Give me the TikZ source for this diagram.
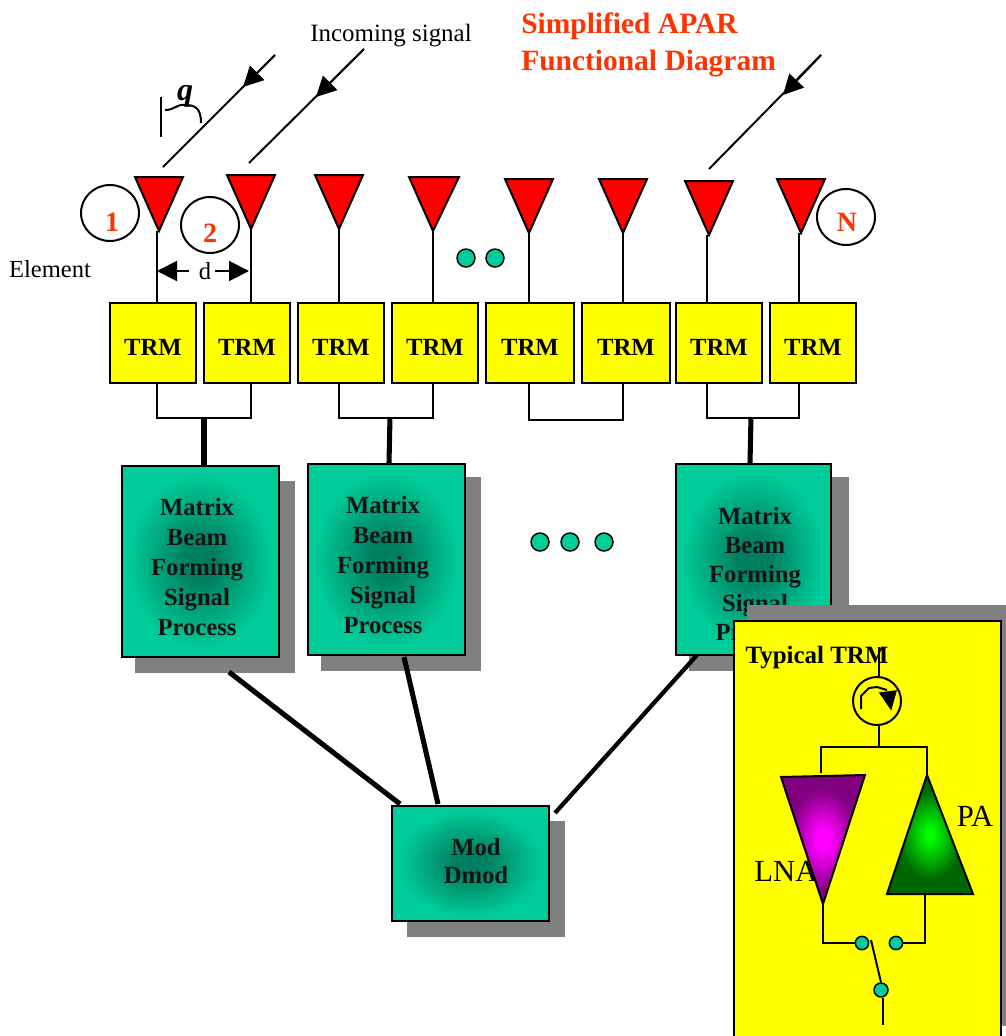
\documentclass[tikz,border=0pt]{standalone}
\usepackage{fontspec}
\setmainfont{Liberation Serif}
\usetikzlibrary{arrows.meta,calc}
\definecolor{tealbox}{HTML}{00CC99}
\definecolor{tealdeep}{HTML}{007F60}
\definecolor{redlab}{HTML}{FF3300}
\definecolor{shadowgray}{HTML}{808080}
\definecolor{pureyellow}{HTML}{FFFF00}
\definecolor{puremagenta}{HTML}{FF00FF}
\definecolor{darkmagenta}{HTML}{800080}
\definecolor{puregreen}{HTML}{00FF00}
\definecolor{darkgrn}{HTML}{006600}
\definecolor{purered}{HTML}{FF0000}
\pgfdeclareradialshading{tealshade}{\pgfpoint{0bp}{0bp}}{color(0bp)=(tealdeep); color(5bp)=(tealdeep); color(23bp)=(tealbox); color(50bp)=(tealbox)}
\pgfdeclareradialshading{purpleshade}{\pgfpoint{0bp}{0bp}}{color(0bp)=(puremagenta); color(4bp)=(puremagenta); color(20bp)=(darkmagenta); color(50bp)=(darkmagenta)}
\pgfdeclareradialshading{greenshade}{\pgfpoint{0bp}{0bp}}{color(0bp)=(puregreen); color(2bp)=(puregreen); color(19bp)=(darkgrn); color(50bp)=(darkgrn)}
\newcommand{\trmtext}{\raisebox{-9pt}[0pt][0pt]{TRM}}
\tikzset{
  x=0.75pt,y=-0.75pt,
  wire/.style={draw=black,line width=1.5pt},
  fatwire/.style={draw=black,line width=3.8pt},
  antenna/.style={draw=black,line width=1.5pt,fill=purered,line join=miter},
  trmbox/.style={draw=black,line width=1.5pt,fill=pureyellow,minimum width=65pt,minimum height=60pt,inner sep=0pt,font=\fontsize{18.5}{20}\selectfont\bfseries},
  procbox/.style={draw=black,line width=1.8pt,shading=tealshade,inner sep=0pt,anchor=north west},
  proclabel/.style={font=\fontsize{18.5}{22.5}\selectfont\bfseries,align=center,inner sep=0pt,text=black!92},
  taglabel/.style={font=\fontsize{21}{24}\selectfont\bfseries,text=redlab,inner sep=0pt},
  tealdot/.style={draw=black,line width=1.1pt,fill=tealbox,circle,minimum size=13.5pt,inner sep=0pt},
  smalldot/.style={draw=black,line width=1.1pt,fill=tealbox,circle,minimum size=10pt,inner sep=0pt},
  plainlabel/.style={font=\fontsize{18.4}{20}\selectfont,inner sep=0pt},
  bigarrow/.style={-{Triangle[length=15pt,width=15pt]},draw=black,line width=1.5pt},
}
\begin{document}
\begin{tikzpicture}
\useasboundingbox (0,0) rectangle (1006,1036);
% title
\node[font=\fontsize{22.1}{27.75}\selectfont\bfseries,text=redlab,align=left,anchor=north west,inner sep=0pt] (title) at (521,12) {Simplified APAR\\Functional Diagram};
\node[plainlabel,font=\fontsize{18.7}{20}\selectfont] (incoming) at (391,36) {Incoming signal};
\node[plainlabel] (element) at (50,269) {Element};
% incoming rays
\coordinate (r1s) at (275,55); \coordinate (r1t) at (243,87); \coordinate (r1e) at (163,167);
\coordinate (r2s) at (364,49); \coordinate (r2t) at (316,97); \coordinate (r2e) at (249,163);
\coordinate (r3s) at (821,55); \coordinate (r3t) at (783,95); \coordinate (r3e) at (709,169);
\draw[wire] (r1s) -- (r1e); \draw[wire] (r2s) -- (r2e); \draw[wire] (r3s) -- (r3e);
\draw[bigarrow] (r1s) -- (r1t);
\draw[bigarrow] (r2s) -- (r2t);
\draw[bigarrow] (r3s) -- (r3t);
% angle
\coordinate (v1) at (161,97); \coordinate (v2) at (161,137);
\draw[wire] (v1) -- (v2);
\coordinate (b1) at (165,110); \coordinate (b2) at (201,123);
\draw[wire] (b1) .. controls (175,110) and (176,104) .. (185,105) .. controls (195,105) and (201,108) .. (b2);
\node[font=\fontsize{24}{26}\selectfont\bfseries\itshape,inner sep=0pt] (theta) at (185,96) {q};
% TRM boxes
\node[trmbox] (t1) at (153,343) {\trmtext};
\node[trmbox] (t2) at (247,343) {\trmtext};
\node[trmbox] (t3) at (341,343) {\trmtext};
\node[trmbox] (t4) at (435,343) {\trmtext};
\node[trmbox,minimum width=66.5pt] (t5) at (530,343) {\trmtext};
\node[trmbox,minimum width=66.5pt] (t6) at (626,343) {\trmtext};
\node[trmbox] (t7) at (719,343) {\trmtext};
\node[trmbox] (t8) at (813,343) {\trmtext};
% antennas
\foreach \n/\ax/\bx/\tx/\ty/\tipy/\fx in {1/135/183/159/177/231/157,2/227/275/251/175/229/251,3/315/363/339/175/229/339,4/409/459/433/177/231/433,5/505/553/529/179/233/529,6/599/647/623/179/233/623,7/685/733/709/181/235/707,8/777/825/801/179/233/799}{
  \coordinate (f\n) at (\fx,\tipy);
  \draw[wire] (f\n) -- (f\n |- t\n.north);
  \draw[antenna] (\ax,\ty) -- (\bx,\ty) -- (\tx,\tipy) -- cycle;
}
% element tags
\draw[wire,fill=white] (110,213) ellipse [x radius=29,y radius=28];
\draw[wire,fill=white] (210,225) ellipse [x radius=29,y radius=28];
\draw[wire,fill=white] (846,217) ellipse [x radius=29,y radius=28];
\node[taglabel] (n1) at (112,222) {1};
\node[taglabel] (n2) at (210,233) {2};
\node[taglabel] (nN) at (847,222) {N};
% spacing d
\node[plainlabel] (dlab) at (205,271) {d};
\coordinate (dl) at (157,271); \coordinate (dr) at (249,271);
\draw[bigarrow] (dlab.west) ++(-10,0) -- (dl);
\draw[bigarrow] (dlab.east) ++(4,0) -- (dr);
% dots
\node[tealdot] (d1) at (466,258) {};
\node[tealdot] (d2) at (495,258) {};
\node[tealdot] (d3) at (540,542) {};
\node[tealdot] (d4) at (570,542) {};
\node[tealdot] (d5) at (604,542) {};
% brackets
\draw[wire] (f1 |- t1.south) -- ++(0,34) -| (f2 |- t2.south);
\draw[wire] (f3 |- t3.south) -- ++(0,34) -| (f4 |- t4.south);
\draw[wire] (f5 |- t5.south) -- ++(0,36) -| (f6 |- t6.south);
\draw[wire] (f7 |- t7.south) -- ++(0,34) -| (f8 |- t8.south);
% matrix boxes
\fill[shadowgray] (135,481) rectangle (295,673);
\fill[shadowgray] (321,477) rectangle (481,671);
\fill[shadowgray] (689,477) rectangle (849,671);
\fill[shadowgray] (407,821) rectangle (565,937);
\coordinate (top1) at (204,417); \coordinate (top2) at (390,417); \coordinate (top3) at (751,417);
\node[procbox,minimum width=118pt,minimum height=143.5pt] (m1) at (120.5,464.5) {};
\node[procbox,minimum width=118pt,minimum height=143.5pt] (m2) at (306.5,462.5) {};
\node[procbox,minimum width=116.5pt,minimum height=143.5pt] (m3) at (674.5,462.5) {};
\node[procbox,minimum width=118pt,minimum height=86.5pt] (mod) at (390.5,804.5) {};
\draw[fatwire] (top1) -- (top1 |- m1.north);
\draw[fatwire] (top2) -- (389,463);
\draw[fatwire] (top3) -- (750,463);
\node[proclabel] (l1) at (197,567) {Matrix\\Beam\\Forming\\Signal\\Process};
\node[proclabel] (l2) at (383,565) {Matrix\\Beam\\Forming\\Signal\\Process};
\node[proclabel,font=\fontsize{18.5}{21.7}\selectfont\bfseries] (l3) at (755,574) {Matrix\\Beam\\Forming\\Signal\\Process};
\node[proclabel,font=\fontsize{18.5}{21}\selectfont\bfseries] (l4) at (476,861) {Mod\\Dmod};
% feeds to modulator
\coordinate (c1) at (229,672); \coordinate (c1e) at (400,804);
\coordinate (c2) at (404,657); \coordinate (c2e) at (438,804);
\coordinate (c3) at (697,655); \coordinate (c3e) at (555,813);
\draw[fatwire] (c1) -- (c1e);
\draw[fatwire] (c2) -- (c2e);
\draw[fatwire,line width=3.2pt] (c3) -- (c3e);
% inset
\fill[shadowgray] (747,605) rectangle (1006,1026);
\draw[line width=1.8pt,fill=pureyellow] (734,621) rectangle (1001,1040);
\node[font=\fontsize{18.7}{20}\selectfont\bfseries,inner sep=0pt] (typ) at (817,658) {Typical TRM};
\node[draw=black,line width=1.5pt,circle,minimum size=36pt,inner sep=0pt] (circ) at (877,701) {};
\coordinate (ctop) at (879,647);
\draw[wire] (ctop) -- (ctop |- circ.north);
\coordinate (junc) at (879,747);
\draw[wire] (junc |- circ.south) -- (junc);
\coordinate (lnaT) at (821,773); \coordinate (paT) at (927,775);
\draw[wire] (lnaT) |- (junc) -| (paT);
\draw[wire] (861,709) -- (861,696) -- (869,688) -- (877,687) -- (887,690);
\draw[fill=black,line width=1pt] (880,693) -- (896,691) -- (891,709) -- cycle;
% LNA / PA
\node[font=\fontsize{23}{25}\selectfont,inner sep=0pt] (lna) at (786,871) {LNA};
\node[font=\fontsize{23}{25}\selectfont,inner sep=0pt] (pa) at (975,816) {PA};
\shade[shading=purpleshade] (781,777) -- (865,775) -- (823,904) -- cycle;
\draw[wire,line join=miter] (781,777) -- (865,775) -- (823,904) -- cycle;
\shade[shading=greenshade] (927,775) -- (973,894) -- (887,894) -- cycle;
\draw[wire,line join=miter] (927,775) -- (973,894) -- (887,894) -- cycle;
% switch
\node[smalldot] (s1) at (862,943) {};
\node[smalldot] (s2) at (896,943) {};
\node[smalldot,minimum size=10.5pt] (s3) at (881,990) {};
\coordinate (lnaB) at (823,904); \coordinate (paB) at (925,894);
\draw[wire] (lnaB) |- (s1.west);
\draw[wire] (paB) |- (s2.east);
\coordinate (sw) at (871,940);
\draw[wire] (sw) -- (s3.north);
\coordinate (out) at (883,1025);
\draw[wire] (s3.south -| out) -- (out);
\end{tikzpicture}
\end{document}
